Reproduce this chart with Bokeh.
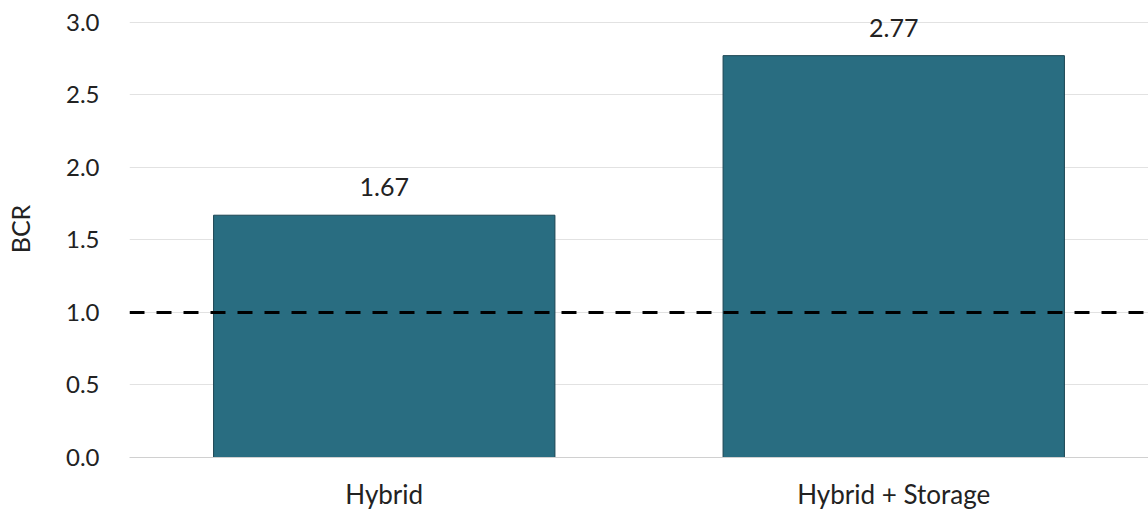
from bokeh.plotting import figure
from bokeh.models import ColumnDataSource, Span, Range1d, FactorRange, LabelSet, CustomJSTickFormatter
from bokeh.core.properties import value
from bokeh.embed import file_html
from bokeh.resources import INLINE

categories = ["Hybrid", "Hybrid + Storage"]
bcr_values = [1.67, 2.77]
value_labels = ["1.67", "2.77"]
threshold = 1.0
y_ticks = [0.0, 0.5, 1.0, 1.5, 2.0, 2.5, 3.0]

FONT = "Lato"
src = ColumnDataSource(dict(cat=categories, val=bcr_values, lab=value_labels))

p = figure(x_range=FactorRange(*categories, range_padding=0), y_range=Range1d(0, 3.15),
           width=1148, height=512, output_backend="svg", toolbar_location=None,
           min_border_left=129, min_border_right=0, min_border_top=0, min_border_bottom=54)

p.vbar(x="cat", top="val", width=0.67, source=src, fill_color="#296d81",
       line_color="#1c4553", line_width=1)

p.add_layout(Span(location=threshold, dimension="width", line_color="black",
                  line_width=3, line_dash="15 12"))

labels = LabelSet(x="cat", y="val", text="lab", source=src, text_align="center",
                  text_baseline="bottom", y_offset=19, text_font=value(FONT),
                  text_font_size="25px", text_color="#222222")
p.add_layout(labels)

p.outline_line_color = None
p.xgrid.grid_line_color = None
p.ygrid.grid_line_color = "#e2e2e2"
p.ygrid.grid_line_width = 1
p.yaxis.ticker = y_ticks
p.yaxis.formatter = CustomJSTickFormatter(code="return tick.toFixed(1);")
p.yaxis.axis_line_color = None
p.yaxis.major_tick_line_color = None
p.yaxis.minor_tick_line_color = None
p.yaxis.major_tick_out = 0
p.yaxis.major_tick_in = 0
p.yaxis.minor_tick_out = 0
p.yaxis.major_label_text_font = FONT
p.yaxis.major_label_text_font_size = "24px"
p.yaxis.major_label_text_color = "#222222"
p.yaxis.major_label_standoff = 30
p.yaxis.axis_label = "BCR"
p.yaxis.axis_label_text_font = FONT
p.yaxis.axis_label_text_font_style = "normal"
p.yaxis.axis_label_text_font_size = "25px"
p.yaxis.axis_label_text_color = "#222222"
p.yaxis.axis_label_standoff = 28

p.xaxis.axis_line_color = "#d0d0d0"
p.xaxis.major_tick_line_color = None
p.xaxis.minor_tick_line_color = None
p.xaxis.major_tick_out = 0
p.xaxis.major_tick_in = 0
p.xaxis.minor_tick_out = 0
p.xaxis.major_label_text_font = FONT
p.xaxis.major_label_text_font_size = "26px"
p.xaxis.major_label_text_color = "#222222"
p.xaxis.major_label_standoff = 20

open("out.html", "w").write(file_html(p, INLINE))
